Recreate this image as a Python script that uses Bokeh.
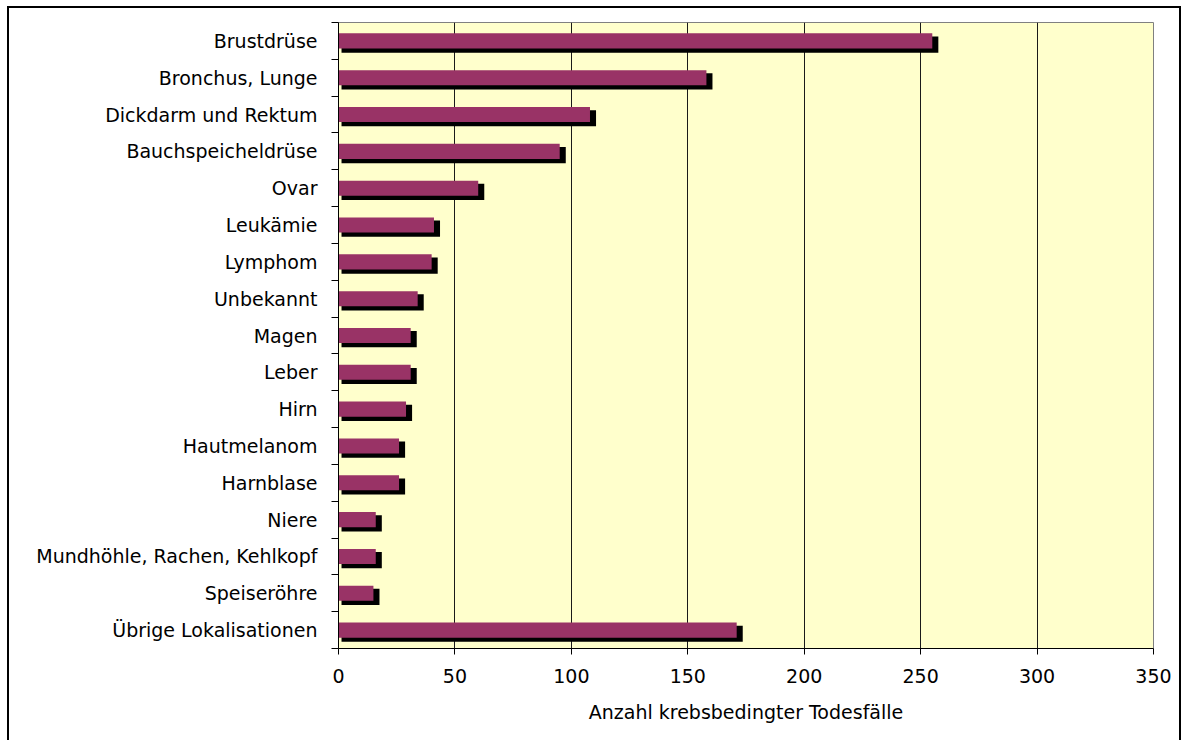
from bokeh.plotting import figure
from bokeh.models import ColumnDataSource, Range1d, FixedTicker
from bokeh.embed import file_html
from bokeh.resources import INLINE

categories = ["Brustdrüse", "Bronchus, Lunge", "Dickdarm und Rektum", "Bauchspeicheldrüse",
              "Ovar", "Leukämie", "Lymphom", "Unbekannt", "Magen", "Leber", "Hirn",
              "Hautmelanom", "Harnblase", "Niere", "Mundhöhle, Rachen, Kehlkopf",
              "Speiseröhre", "Übrige Lokalisationen"]
values = [255, 158, 108, 95, 60, 41, 40, 34, 31, 31, 29, 26, 26, 16, 16, 15, 171]
x_ticks = [0, 50, 100, 150, 200, 250, 300, 350]
x_label = "Anzahl krebsbedingter Todesfälle"

n = len(categories)
ypos = list(range(n))[::-1]

FONT = "DejaVu Sans"
FS = "19px"

src = ColumnDataSource(dict(
    y=ypos,
    val=values,
    sy=[y - 0.1 for y in ypos],
    sl=[1.3] * n,
    sr=[v + 2.6 for v in values],
))

p = figure(width=1174, height=734, x_range=Range1d(0, 350), y_range=Range1d(-0.5, n - 0.5),
           output_backend="svg", toolbar_location=None,
           min_border_left=329, min_border_right=30, min_border_top=14, min_border_bottom=94)
p.margin = (6, 0, 0, 7)
p.styles = {"border": "2px solid black", "border-bottom": "none"}

p.background_fill_color = "#FFFFCC"
p.border_fill_color = "white"
p.outline_line_color = "#808080"
p.outline_line_width = 1

# shadow
p.hbar(y="sy", left="sl", right="sr", height=0.44, source=src, fill_color="black", line_color=None)
# bars
p.hbar(y="y", left=0, right="val", height=0.41, source=src, fill_color="#993366", line_color=None)

# grids
p.ygrid.grid_line_color = None
p.xgrid.ticker = FixedTicker(ticks=x_ticks)
p.xgrid.grid_line_color = "#1a1a1a"
p.xgrid.grid_line_width = 1

# x axis
xa = p.xaxis[0]
xa.ticker = FixedTicker(ticks=x_ticks)
xa.axis_label = x_label
xa.axis_label_text_font = FONT
xa.axis_label_text_font_size = FS
xa.axis_label_text_font_style = "normal"
xa.axis_label_text_color = "black"
xa.axis_label_standoff = 15
xa.major_label_text_font = FONT
xa.major_label_text_font_size = FS
xa.major_label_text_color = "black"
xa.major_label_standoff = 14
xa.major_tick_out = 6
xa.major_tick_in = 0
xa.minor_tick_line_color = None
xa.axis_line_color = "black"
xa.major_tick_line_color = "black"

# y axis
ya = p.yaxis[0]
ya.ticker = FixedTicker(ticks=ypos, minor_ticks=[y + 0.5 for y in range(-1, n)])
ya.major_label_overrides = {y: c for y, c in zip(ypos, categories)}
ya.major_label_text_font = FONT
ya.major_label_text_font_size = FS
ya.major_label_text_color = "black"
ya.major_label_standoff = 14
ya.major_tick_out = 0
ya.major_tick_in = 0
ya.minor_tick_out = 7
ya.minor_tick_in = 0
ya.minor_tick_line_color = "black"
ya.axis_line_color = "black"

open("out.html", "w").write(file_html(p, INLINE))
